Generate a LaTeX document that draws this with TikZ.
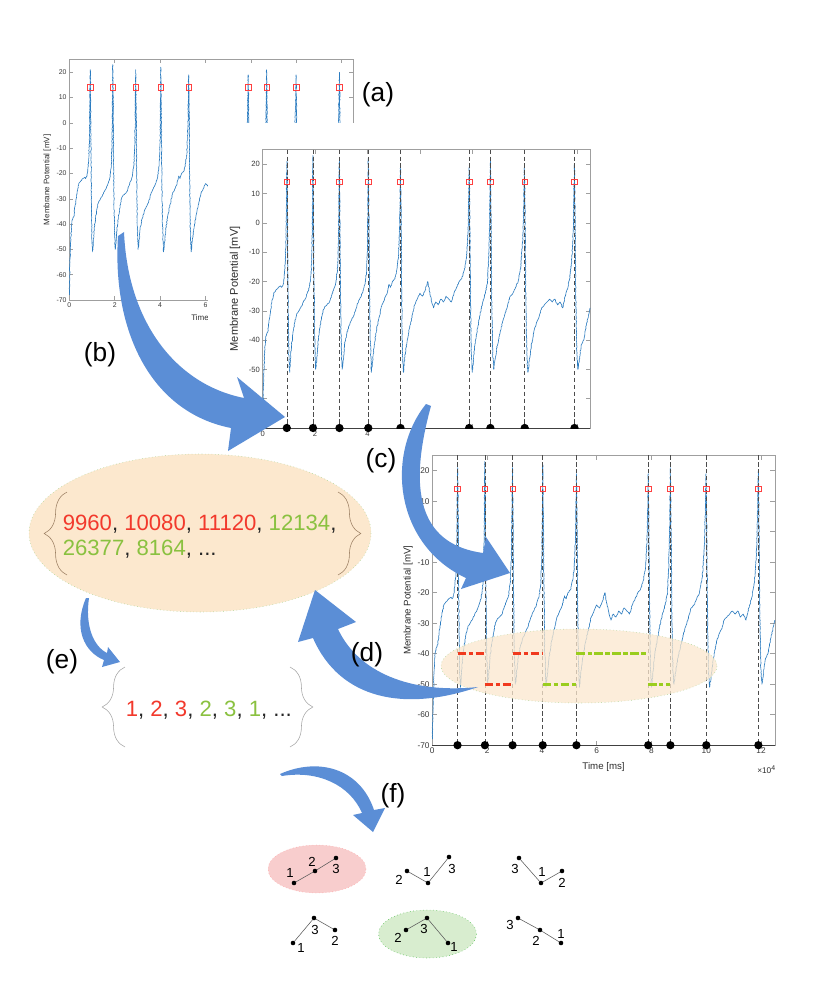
\documentclass[tikz,border=0pt]{standalone}
\usepackage{fontspec}
\setmainfont{Liberation Sans}
\usepackage{tikz}
\usetikzlibrary{positioning}
\usetikzlibrary{decorations.pathmorphing,decorations.pathreplacing}
\definecolor{traceblue}{HTML}{2C7CC0}
\definecolor{arrowblue}{HTML}{5B8ED6}
\definecolor{peachfill}{HTML}{FCE8CE}
\definecolor{leafgreen}{HTML}{A8D494}
\definecolor{seqred}{HTML}{F2392C}
\definecolor{seqgreen}{HTML}{8AC140}
\definecolor{lagred}{HTML}{F03A1E}
\definecolor{laggreen}{HTML}{9ACD1E}
\definecolor{pinkfill}{HTML}{F8CDCD}
\definecolor{mintfill}{HTML}{D8EDCF}
\tikzset{axisline/.style={draw=gray!75,line width=0.4pt}}
\tikzset{ticklabel/.style={text=gray!45!black,inner sep=1.8pt}}
\tikzset{axislabel/.style={text=gray!35!black,inner sep=0pt}}
\tikzset{trace/.style={draw=traceblue,line width=0.45pt,line join=round,decorate,
  decoration={random steps,segment length=0.9pt,amplitude=0.25pt}}}
\tikzset{spikeline/.style={draw=black!70,line width=0.4pt,dash pattern=on 3pt off 2pt}}
\tikzset{peakmark/.style={draw=red!75,line width=0.4pt,minimum size=4pt,inner sep=0pt}}
\tikzset{spikedot/.style={circle,fill=black,minimum size=6pt,inner sep=0pt}}
\tikzset{lagline/.style={line width=2.1pt,dash pattern=on 6pt off 2pt on 3pt off 2pt}}
\tikzset{peach/.style={fill=peachfill,draw=leafgreen,dotted,line width=0.4pt}}
\tikzset{bigarrow/.style={fill=arrowblue}}
\tikzset{seqtext/.style={font=\fontsize{16}{18}\selectfont,inner sep=0pt,text=black!85}}
\tikzset{steplabel/.style={font=\fontsize{19}{22}\selectfont,inner sep=0pt}}
\tikzset{setbrace/.style={draw=gray!70,line width=0.4pt,decorate,decoration={brace,amplitude=16.5pt}}}
\tikzset{patdot/.style={circle,fill=black,minimum size=3.3pt,inner sep=0pt}}
\tikzset{patline/.style={draw=gray!70!black,line width=0.4pt}}
\tikzset{patlabel/.style={font=\fontsize{9.5}{10}\selectfont,inner sep=0pt}}

% axes of one recording: #1 prefix for names, #2 x of the y label
\newcommand{\plotaxes}[2]{%
  \draw[axisline] (0,-70) rectangle (12.5,25);
  \foreach \t [count=\k] in {0,2,...,12} {
    \draw[axisline] (\t,-70) -- (\t,-68.6) (\t,25) -- (\t,23.6);
    \node[ticklabel,anchor=north] (#1x\k) at (\t,-70) {\t};
  }
  \foreach \v [count=\k] in {-70,-60,...,20} {
    \draw[axisline] (0,\v) -- (0.16,\v) (12.5,\v) -- (12.34,\v);
    \node[ticklabel,anchor=east] (#1y\k) at (0,\v) {\v};
  }
  \node[axislabel,rotate=90] (#1ylab) at (#2,-22.5) {Membrane Potential [mV]};
}
\newcommand{\drawtrace}{%
  \draw[trace] plot coordinates {(0,-68) (0.03,-55) (0.07,-45) (0.1,-40) (0.15,-38) (0.2,-37)
  (0.25,-33) (0.3,-30) (0.35,-27) (0.42,-24) (0.5,-23) (0.6,-22) (0.68,-21.5) (0.72,-22)
  (0.78,-21) (0.82,-18) (0.86,-14) (0.89,-5) (0.91,12) (0.925,21) (0.94,10) (0.96,-15)
  (0.98,-35) (1.0,-47) (1.03,-51) (1.06,-47) (1.1,-42) (1.15,-38) (1.22,-34) (1.3,-31)
  (1.38,-30) (1.45,-29) (1.55,-27) (1.62,-26) (1.7,-24) (1.78,-22) (1.84,-18) (1.88,-10)
  (1.9,5) (1.915,23) (1.93,12) (1.95,-15) (1.98,-38) (2.02,-50) (2.06,-47) (2.1,-42)
  (2.16,-37) (2.24,-33) (2.3,-30) (2.38,-28.5) (2.45,-28) (2.55,-27) (2.62,-25) (2.7,-23)
  (2.78,-21) (2.85,-16) (2.89,-8) (2.91,8) (2.925,21) (2.94,10) (2.96,-15) (2.99,-38)
  (3.03,-50) (3.07,-47) (3.12,-42) (3.2,-38) (3.3,-35) (3.4,-33) (3.5,-31) (3.6,-28)
  (3.7,-26) (3.8,-24) (3.9,-21) (3.96,-17) (4.0,-8) (4.02,10) (4.03,22) (4.045,10)
  (4.07,-15) (4.1,-38) (4.15,-51) (4.2,-47) (4.25,-42) (4.35,-36) (4.45,-32) (4.55,-28)
  (4.65,-26) (4.75,-24) (4.82,-21) (4.88,-22) (4.95,-20) (5.05,-19) (5.12,-16) (5.18,-12)
  (5.23,0) (5.26,19) (5.28,5) (5.3,-20) (5.33,-42) (5.37,-51) (5.42,-46) (5.5,-41)
  (5.6,-36) (5.7,-32) (5.8,-28) (5.9,-26) (6.0,-24) (6.1,-25) (6.2,-23) (6.3,-20)
  (6.38,-24) (6.45,-27) (6.52,-29) (6.6,-27) (6.7,-28) (6.8,-26) (6.9,-27) (7.0,-25)
  (7.1,-26) (7.2,-27) (7.3,-24) (7.4,-22) (7.5,-20) (7.6,-19) (7.7,-16) (7.78,-12)
  (7.84,-2) (7.87,12) (7.88,19) (7.9,5) (7.93,-25) (7.96,-45) (8.0,-51) (8.05,-46)
  (8.12,-40) (8.2,-36) (8.3,-31) (8.4,-27) (8.5,-24) (8.58,-20) (8.63,-12) (8.67,5)
  (8.69,21) (8.71,5) (8.74,-25) (8.78,-45) (8.82,-50) (8.88,-46) (8.95,-42) (9.05,-38)
  (9.15,-34) (9.25,-31) (9.35,-28) (9.45,-25) (9.55,-24) (9.65,-22) (9.75,-20) (9.85,-15)
  (9.93,-5) (9.97,8) (9.99,19) (10.01,5) (10.04,-25) (10.08,-45) (10.12,-51) (10.18,-47)
  (10.25,-42) (10.35,-37) (10.45,-34) (10.55,-32) (10.65,-29) (10.75,-28) (10.85,-27)
  (10.95,-26) (11.05,-27) (11.15,-26) (11.25,-28) (11.35,-27) (11.45,-29) (11.55,-25)
  (11.65,-22) (11.73,-18) (11.8,-12) (11.85,-3) (11.88,10) (11.9,20) (11.92,5) (11.95,-25)
  (11.99,-45) (12.03,-50) (12.08,-47) (12.15,-42) (12.25,-40) (12.35,-35) (12.45,-31)
  (12.5,-29)};
}
\newcommand{\peakmarks}[1]{%
  \foreach \t [count=\i] in {0.92,1.92,2.93,4.03,5.26,7.88,8.69,10.0,11.9}
    \node[peakmark] (#1sq\i) at (\t,14) {};
}
\newcommand{\spikemarks}[1]{%
  \draw[black!75,line width=0.6pt] (0,-70) -- (12.5,-70);
  \foreach \t [count=\i] in {0.92,1.92,2.93,4.03,5.26,7.88,8.69,10.0,11.9} {
    \draw[spikeline] (\t,25) -- (\t,-70);
    \node[spikedot] (#1dot\i) at (\t,-70) {};
  }
}

\begin{document}
\begin{tikzpicture}[x=0.0254cm,y=-0.0254cm]
  \useasboundingbox (0,0) rectangle (830,992);
  % (a) raw recording
  \begin{scope}[shift={(69.3,122.9)},xscale=22.7,yscale=-2.53,
      ticklabel/.append style={font=\fontsize{5}{6}\selectfont},
      axislabel/.append style={font=\fontsize{5.8}{7}\selectfont}]
    \plotaxes{a}{-0.97}
    \drawtrace
    \peakmarks{a}
    \node[axislabel,anchor=west] (atime) at (5.36,-77.1) {Time};
  \end{scope}
  \fill[white] (208,123) rectangle (600,428.8);
  % (b) detected spikes
  \begin{scope}[shift={(262.7,222.9)},xscale=26.2,yscale=-2.93,
      ticklabel/.append style={font=\fontsize{5.5}{6.5}\selectfont},
      axislabel/.append style={font=\fontsize{8}{9}\selectfont}]
    \plotaxes{b}{-1.06}
    \drawtrace
    \spikemarks{b}
    \peakmarks{b}
  \end{scope}
  \fill[white] (385,428.8) rectangle (800,790);
  % (c) inter-spike intervals
  \begin{scope}[shift={(432.3,531.7)},xscale=27.4,yscale=-3.05,
      ticklabel/.append style={font=\fontsize{6}{7}\selectfont},
      axislabel/.append style={font=\fontsize{7}{8}\selectfont}]
    \plotaxes{c}{-0.88}
    \drawtrace
    \spikemarks{c}
    \peakmarks{c}
    \node[axislabel] (ctime) at (6.25,-77.3) {Time [ms]};
    \node[axislabel,anchor=east,font=\fontsize{6}{7}\selectfont] (cexp) at (12.55,-78) {×10\textsuperscript{4}};
  \end{scope}
  \fill[peach,fill opacity=0.75] (579,666) ellipse [x radius=138,y radius=37];
  \begin{scope}[shift={(432.3,531.7)},xscale=27.4,yscale=-3.05]
    \draw[lagline,lagred] (0.92,-40) -- (1.92,-40);
    \draw[lagline,lagred] (2.93,-40) -- (4.03,-40);
    \draw[lagline,laggreen] (5.26,-40) -- (7.88,-40);
    \draw[lagline,lagred] (1.92,-50) -- (2.93,-50);
    \draw[lagline,laggreen] (4.03,-50) -- (5.26,-50);
    \draw[lagline,laggreen] (7.88,-50) -- (8.69,-50);
  \end{scope}

  % intervals
  \draw[peach] (200,533) ellipse [x radius=171,y radius=79];
  \draw[setbrace,draw=brown!45!gray] (67,575) -- (67,492);
  \draw[setbrace,draw=brown!45!gray] (338,492) -- (338,575);
  \node[seqtext,anchor=base west] (isi1) at (62.5,530) {\textcolor{seqred}{9960}, \textcolor{seqred}{10080}, \textcolor{seqred}{11120}, \textcolor{seqgreen}{12134},};
  \node[seqtext,anchor=base west] (isi2) at (62.5,555) {\textcolor{seqgreen}{26377}, \textcolor{seqgreen}{8164}, ...};

  % ordinal symbols
  \draw[setbrace] (125,747) -- (125,667);
  \draw[setbrace] (290,667) -- (290,747);
  \node[seqtext,anchor=base west] (ord) at (125.5,716) {\textcolor{seqred}{1}, \textcolor{seqred}{2}, \textcolor{seqred}{3}, \textcolor{seqgreen}{2}, \textcolor{seqgreen}{3}, \textcolor{seqgreen}{1}, ...};

  % patterns
  \draw[fill=pinkfill,draw=red!35,dotted,line width=0.4pt] (317,869) ellipse [x radius=49,y radius=24];
  \draw[fill=mintfill,draw=green!45!gray,dotted,line width=0.4pt] (427.5,934) ellipse [x radius=49,y radius=24];
  \node[patdot] (p1a) at (294,883) {};
  \node[patdot] (p1b) at (315,871) {};
  \node[patdot] (p1c) at (336,858) {};
  \draw[patline] (p1a) -- (p1b) -- (p1c);
  \node[patlabel] (p1al) at (290,873) {1};
  \node[patlabel] (p1bl) at (312,862) {2};
  \node[patlabel] (p1cl) at (336,869) {3};
  \node[patdot] (p2a) at (407,871) {};
  \node[patdot] (p2b) at (428,883) {};
  \node[patdot] (p2c) at (449,857) {};
  \draw[patline] (p2a) -- (p2b) -- (p2c);
  \node[patlabel] (p2al) at (399,880) {2};
  \node[patlabel] (p2bl) at (427,872) {1};
  \node[patlabel] (p2cl) at (452,869) {3};
  \node[patdot] (p3a) at (519,858) {};
  \node[patdot] (p3b) at (541,883) {};
  \node[patdot] (p3c) at (562,871) {};
  \draw[patline] (p3a) -- (p3b) -- (p3c);
  \node[patlabel] (p3al) at (515,869) {3};
  \node[patlabel] (p3bl) at (542,872) {1};
  \node[patlabel] (p3cl) at (562,883) {2};
  \node[patdot] (p4a) at (293,943) {};
  \node[patdot] (p4b) at (314,918) {};
  \node[patdot] (p4c) at (335,930) {};
  \draw[patline] (p4a) -- (p4b) -- (p4c);
  \node[patlabel] (p4al) at (301,948) {1};
  \node[patlabel] (p4bl) at (315,930) {3};
  \node[patlabel] (p4cl) at (335,941) {2};
  \node[patdot] (p5a) at (406,930) {};
  \node[patdot] (p5b) at (427,918) {};
  \node[patdot] (p5c) at (448,943) {};
  \draw[patline] (p5a) -- (p5b) -- (p5c);
  \node[patlabel] (p5al) at (398,938) {2};
  \node[patlabel] (p5bl) at (424,929) {3};
  \node[patlabel] (p5cl) at (454,947) {1};
  \node[patdot] (p6a) at (518,918) {};
  \node[patdot] (p6b) at (540,930) {};
  \node[patdot] (p6c) at (561,943) {};
  \draw[patline] (p6a) -- (p6b) -- (p6c);
  \node[patlabel] (p6al) at (510,925) {3};
  \node[patlabel] (p6bl) at (536,941) {2};
  \node[patlabel] (p6cl) at (561,934) {1};

  % arrows
  \fill[bigarrow] (118,236) .. controls (112,330) and (150,412) .. (231,428) -- (228,451) -- (285,417)
    -- (237,377) -- (244,398) .. controls (178,385) and (128,325) .. (124,232) -- cycle;
  \fill[bigarrow] (426,404) .. controls (385,455) and (395,545) .. (466,578) -- (461,589) -- (510,573)
    -- (486,537) -- (483,553) .. controls (425,545) and (405,500) .. (431,406) -- cycle;
  \fill[bigarrow] (478,687) .. controls (405,712) and (340,700) .. (313,638) -- (298,642) -- (315,590)
    -- (356,622) -- (338,629) .. controls (358,672) and (410,694) .. (478,687) -- cycle;
  \fill[bigarrow] (86,598) .. controls (73,628) and (84,652) .. (104,660) -- (102,667) -- (120,662)
    -- (108,647) -- (107,653) .. controls (93,646) and (85,625) .. (89,598) -- cycle;
  \fill[bigarrow] (280,774) .. controls (318,757) and (360,768) .. (374,810) -- (385,808) -- (373,832)
    -- (353,815) -- (362,813) .. controls (350,785) and (318,770) .. (282,776) -- cycle;

  % step labels
  \node[steplabel] (la) at (378,95) {(a)};
  \node[steplabel] (lb) at (100,355) {(b)};
  \node[steplabel] (lc) at (381,461) {(c)};
  \node[steplabel] (ld) at (367,655) {(d)};
  \node[steplabel] (le) at (62,662) {(e)};
  \node[steplabel] (lf) at (393,796) {(f)};
\end{tikzpicture}
\end{document}
